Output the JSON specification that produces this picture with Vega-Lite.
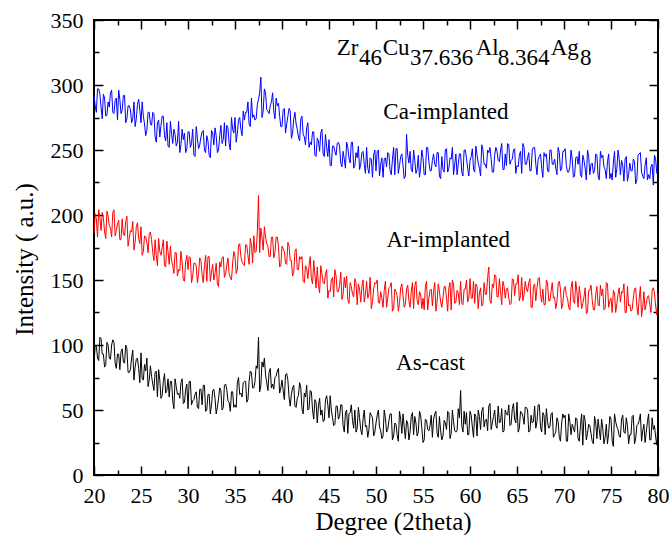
{
"$schema": "https://vega.github.io/schema/vega-lite/v6.json",
"width": 564, "height": 455,
"autosize": "none",
"padding": {"left": 94, "top": 20, "right": 12, "bottom": 60},
"background": "white",
"config": {
 "view": {"stroke": "#000", "strokeWidth": 2},
 "axis": {"domain": false, "grid": false, "tickColor": "#000", "tickWidth": 1.5, "labelFont": "Liberation Serif", "labelFontSize": 22, "labelColor": "#000", "labelFlush": false, "labelOverlap": false, "titleFont": "Liberation Serif", "titleFontSize": 24, "titleFontWeight": "normal", "titleColor": "#000"}
},
"datasets": {
 "xrd": [
{"x":20,"c":292,"r":186,"b":85},{"x":20.25,"c":279,"r":197,"b":99},{"x":20.5,"c":297,"r":204,"b":88},{"x":20.75,"c":283,"r":188,"b":105},
{"x":21,"c":293,"r":198,"b":93},{"x":21.25,"c":276,"r":182,"b":85},{"x":21.5,"c":287,"r":199,"b":100},{"x":21.75,"c":294,"r":190,"b":89},
{"x":22,"c":279,"r":202,"b":104},{"x":22.25,"c":288,"r":184,"b":86},{"x":22.5,"c":273,"r":193,"b":93},{"x":22.75,"c":289,"r":181,"b":81},
{"x":23,"c":281,"r":197,"b":97},{"x":23.25,"c":292,"r":184,"b":86},{"x":23.5,"c":274,"r":199,"b":97},{"x":23.75,"c":284,"r":182,"b":79},
{"x":24,"c":271,"r":187,"b":90},{"x":24.25,"c":287,"r":173,"b":73},{"x":24.5,"c":274,"r":191,"b":89},{"x":24.75,"c":289,"r":182,"b":82},
{"x":25,"c":271,"r":191,"b":94},{"x":25.25,"c":276,"r":172,"b":73},{"x":25.5,"c":261,"r":183,"b":80},{"x":25.75,"c":279,"r":171,"b":68},
{"x":26,"c":270,"r":187,"b":84},{"x":26.25,"c":279,"r":171,"b":70},{"x":26.5,"c":260,"r":181,"b":79},{"x":26.75,"c":271,"r":161,"b":60},
{"x":27,"c":260,"r":172,"b":73},{"x":27.25,"c":276,"r":175,"b":61},{"x":27.5,"c":261,"r":161,"b":78},{"x":27.75,"c":271,"r":180,"b":65},
{"x":28,"c":252,"r":162,"b":60},{"x":28.25,"c":263,"r":165,"b":72},{"x":28.5,"c":266,"r":155,"b":51},{"x":28.75,"c":253,"r":171,"b":68},
{"x":29,"c":272,"r":158,"b":63},{"x":29.25,"c":254,"r":172,"b":71},{"x":29.5,"c":258,"r":150,"b":55},{"x":29.75,"c":248,"r":164,"b":66},
{"x":30,"c":264,"r":158,"b":51},{"x":30.25,"c":252,"r":167,"b":72},{"x":30.5,"c":266,"r":153,"b":57},{"x":30.75,"c":245,"r":163,"b":62},
{"x":31,"c":259,"r":148,"b":52},{"x":31.25,"c":254,"r":167,"b":66},{"x":31.5,"c":264,"r":154,"b":54},{"x":31.75,"c":250,"r":161,"b":69},
{"x":32,"c":261,"r":149,"b":50},{"x":32.25,"c":246,"r":168,"b":62},{"x":32.5,"c":265,"r":156,"b":54},{"x":32.75,"c":254,"r":150,"b":66},
{"x":33,"c":261,"r":163,"b":47},{"x":33.25,"c":250,"r":145,"b":59},{"x":33.5,"c":269,"r":160,"b":65},{"x":33.75,"c":258,"r":168,"b":52},
{"x":34,"c":253,"r":155,"b":70},{"x":34.25,"c":267,"r":167,"b":57},{"x":34.5,"c":250,"r":152,"b":49},{"x":34.75,"c":266,"r":163,"b":64},
{"x":35,"c":275,"r":168,"b":54},{"x":35.25,"c":263,"r":158,"b":71},{"x":35.5,"c":275,"r":178,"b":62},{"x":35.75,"c":261,"r":164,"b":60},
{"x":36,"c":273,"r":161,"b":72},{"x":36.25,"c":279,"r":177,"b":56},{"x":36.5,"c":270,"r":162,"b":72},{"x":36.75,"c":290,"r":177,"b":79},
{"x":37,"c":277,"r":184,"b":67},{"x":37.25,"c":274,"r":172,"b":84},{"x":37.5,"c":289,"r":215,"b":106},{"x":37.75,"c":306,"r":190,"b":69},
{"x":38,"c":280,"r":173,"b":83},{"x":38.25,"c":294,"r":183,"b":77},{"x":38.5,"c":280,"r":176,"b":65},{"x":38.75,"c":284,"r":168,"b":82},
{"x":39,"c":294,"r":183,"b":70},{"x":39.25,"c":274,"r":171,"b":75},{"x":39.5,"c":284,"r":183,"b":80},{"x":39.75,"c":276,"r":160,"b":63},
{"x":40,"c":268,"r":176,"b":73},{"x":40.25,"c":282,"r":172,"b":58},{"x":40.5,"c":270,"r":162,"b":78},{"x":40.75,"c":282,"r":176,"b":60},
{"x":41,"c":259,"r":165,"b":62},{"x":41.25,"c":274,"r":156,"b":69},{"x":41.5,"c":270,"r":174,"b":52},{"x":41.75,"c":260,"r":158,"b":61},
{"x":42,"c":274,"r":166,"b":67},{"x":42.25,"c":262,"r":149,"b":47},{"x":42.5,"c":254,"r":161,"b":60},{"x":42.75,"c":271,"r":151,"b":50},
{"x":43,"c":256,"r":168,"b":65},{"x":43.25,"c":264,"r":147,"b":50},{"x":43.5,"c":246,"r":154,"b":58},{"x":43.75,"c":259,"r":160,"b":40},
{"x":44,"c":249,"r":140,"b":59},{"x":44.25,"c":266,"r":155,"b":50},{"x":44.5,"c":245,"r":147,"b":42},{"x":44.75,"c":252,"r":158,"b":61},
{"x":45,"c":258,"r":142,"b":44},{"x":45.25,"c":238,"r":150,"b":50},{"x":45.5,"c":253,"r":137,"b":38},{"x":45.75,"c":246,"r":153,"b":53},
{"x":46,"c":256,"r":141,"b":43},{"x":46.25,"c":240,"r":156,"b":54},{"x":46.5,"c":249,"r":139,"b":38},{"x":46.75,"c":236,"r":144,"b":48},
{"x":47,"c":252,"r":135,"b":32},{"x":47.25,"c":240,"r":148,"b":48},{"x":47.5,"c":256,"r":139,"b":42},{"x":47.75,"c":238,"r":151,"b":50},
{"x":48,"c":244,"r":131,"b":36},{"x":48.25,"c":235,"r":143,"b":44},{"x":48.5,"c":248,"r":145,"b":31},{"x":48.75,"c":239,"r":133,"b":50},
{"x":49,"c":252,"r":149,"b":38},{"x":49.25,"c":232,"r":139,"b":35},{"x":49.5,"c":243,"r":128,"b":46},{"x":49.75,"c":246,"r":143,"b":30},
{"x":50,"c":234,"r":147,"b":40},{"x":50.25,"c":250,"r":133,"b":50},{"x":50.5,"c":239,"r":141,"b":34},{"x":50.75,"c":229,"r":129,"b":30},
{"x":51,"c":244,"r":149,"b":44},{"x":51.25,"c":248,"r":136,"b":35},{"x":51.5,"c":234,"r":145,"b":47},{"x":51.75,"c":243,"r":126,"b":27},
{"x":52,"c":231,"r":143,"b":40},{"x":52.25,"c":251,"r":138,"b":31},{"x":52.5,"c":238,"r":132,"b":49},{"x":52.75,"c":247,"r":147,"b":32},
{"x":53,"c":228,"r":129,"b":37},{"x":53.25,"c":262,"r":143,"b":42},{"x":53.5,"c":240,"r":134,"b":27},{"x":53.75,"c":235,"r":141,"b":45},
{"x":54,"c":250,"r":128,"b":31},{"x":54.25,"c":232,"r":149,"b":40},{"x":54.5,"c":246,"r":131,"b":33},{"x":54.75,"c":237,"r":139,"b":46},
{"x":55,"c":244,"r":136,"b":25},{"x":55.25,"c":231,"r":145,"b":43},{"x":55.5,"c":252,"r":127,"b":35},{"x":55.75,"c":234,"r":142,"b":38},
{"x":56,"c":242,"r":130,"b":29},{"x":56.25,"c":239,"r":148,"b":47},{"x":56.5,"c":248,"r":133,"b":32},{"x":56.75,"c":230,"r":141,"b":45},
{"x":57,"c":245,"r":129,"b":27},{"x":57.25,"c":233,"r":145,"b":42},{"x":57.5,"c":251,"r":136,"b":35},{"x":57.75,"c":236,"r":144,"b":48},
{"x":58,"c":243,"r":127,"b":32},{"x":58.25,"c":231,"r":147,"b":41},{"x":58.5,"c":247,"r":133,"b":33},{"x":58.75,"c":239,"r":140,"b":51},
{"x":59,"c":247,"r":149,"b":65},{"x":59.25,"c":230,"r":131,"b":33},{"x":59.5,"c":250,"r":143,"b":39},{"x":59.75,"c":236,"r":133,"b":31},
{"x":60,"c":242,"r":151,"b":49},{"x":60.25,"c":251,"r":136,"b":37},{"x":60.5,"c":233,"r":132,"b":47},{"x":60.75,"c":246,"r":145,"b":30},
{"x":61,"c":236,"r":140,"b":45},{"x":61.25,"c":254,"r":130,"b":49},{"x":61.5,"c":239,"r":148,"b":37},{"x":61.75,"c":236,"r":139,"b":43},
{"x":62,"c":248,"r":160,"b":53},{"x":62.25,"c":243,"r":132,"b":35},{"x":62.5,"c":233,"r":144,"b":45},{"x":62.75,"c":252,"r":153,"b":38},
{"x":63,"c":242,"r":137,"b":53},{"x":63.25,"c":250,"r":141,"b":41},{"x":63.5,"c":235,"r":149,"b":33},{"x":63.75,"c":247,"r":136,"b":50},
{"x":64,"c":255,"r":144,"b":46},{"x":64.25,"c":239,"r":131,"b":38},{"x":64.5,"c":243,"r":151,"b":51},{"x":64.75,"c":251,"r":138,"b":43},
{"x":65,"c":238,"r":147,"b":56},{"x":65.25,"c":246,"r":134,"b":36},{"x":65.5,"c":232,"r":152,"b":48},{"x":65.75,"c":252,"r":139,"b":39},
{"x":66,"c":239,"r":143,"b":52},{"x":66.25,"c":248,"r":148,"b":33},{"x":66.5,"c":234,"r":129,"b":46},{"x":66.75,"c":252,"r":145,"b":41},
{"x":67,"c":239,"r":134,"b":36},{"x":67.25,"c":243,"r":151,"b":54},{"x":67.5,"c":247,"r":139,"b":37},{"x":67.75,"c":229,"r":143,"b":48},
{"x":68,"c":245,"r":131,"b":31},{"x":68.25,"c":234,"r":148,"b":41},{"x":68.5,"c":250,"r":134,"b":37},{"x":68.75,"c":239,"r":148,"b":48},
{"x":69,"c":243,"r":137,"b":31},{"x":69.25,"c":231,"r":133,"b":44},{"x":69.5,"c":248,"r":149,"b":29},{"x":69.75,"c":235,"r":128,"b":40},
{"x":70,"c":249,"r":143,"b":44},{"x":70.25,"c":238,"r":138,"b":26},{"x":70.5,"c":233,"r":129,"b":47},{"x":70.75,"c":250,"r":144,"b":31},
{"x":71,"c":229,"r":134,"b":36},{"x":71.25,"c":244,"r":149,"b":44},{"x":71.5,"c":239,"r":129,"b":28},{"x":71.75,"c":231,"r":138,"b":38},
{"x":72,"c":246,"r":132,"b":23},{"x":72.25,"c":236,"r":144,"b":42},{"x":72.5,"c":250,"r":125,"b":32},{"x":72.75,"c":231,"r":142,"b":38},
{"x":73,"c":240,"r":135,"b":26},{"x":73.25,"c":234,"r":127,"b":45},{"x":73.5,"c":246,"r":145,"b":28},{"x":73.75,"c":227,"r":130,"b":35},
{"x":74,"c":244,"r":138,"b":43},{"x":74.25,"c":237,"r":127,"b":24},{"x":74.5,"c":228,"r":148,"b":39},{"x":74.75,"c":247,"r":129,"b":32},
{"x":75,"c":232,"r":136,"b":43},{"x":75.25,"c":240,"r":142,"b":22},{"x":75.5,"c":229,"r":125,"b":41},{"x":75.75,"c":250,"r":139,"b":35},
{"x":76,"c":231,"r":133,"b":29},{"x":76.25,"c":238,"r":140,"b":46},{"x":76.5,"c":243,"r":125,"b":32},{"x":76.75,"c":226,"r":145,"b":38},
{"x":77,"c":240,"r":131,"b":31},{"x":77.25,"c":234,"r":127,"b":45},{"x":77.5,"c":241,"r":143,"b":24},{"x":77.75,"c":227,"r":130,"b":38},
{"x":78,"c":247,"r":136,"b":42},{"x":78.25,"c":233,"r":122,"b":26},{"x":78.5,"c":228,"r":141,"b":39},{"x":78.75,"c":244,"r":132,"b":33},
{"x":79,"c":231,"r":138,"b":47},{"x":79.25,"c":237,"r":125,"b":27},{"x":79.5,"c":223,"r":144,"b":35},{"x":79.75,"c":243,"r":130,"b":29},
{"x":80,"c":234,"r":140,"b":42},
{"x":20.125,"c":284,"r":201,"b":100},{"x":20.375,"c":297,"r":183,"b":90},{"x":20.625,"c":293,"r":198,"b":106},{"x":20.875,"c":274,"r":202,"b":93},
{"x":21.125,"c":290,"r":187,"b":83},{"x":21.375,"c":277,"r":203,"b":102},{"x":21.625,"c":283,"r":192,"b":90},{"x":21.875,"c":296,"r":183,"b":100},
{"x":22.125,"c":278,"r":204,"b":102},{"x":22.375,"c":290,"r":188,"b":82},{"x":22.625,"c":296,"r":196,"b":93},{"x":22.875,"c":278,"r":181,"b":95},
{"x":23.125,"c":292,"r":185,"b":87},{"x":23.375,"c":271,"r":195,"b":100},{"x":23.625,"c":284,"r":176,"b":79},{"x":23.875,"c":281,"r":188,"b":81},
{"x":24.125,"c":274,"r":195,"b":96},{"x":24.375,"c":268,"r":179,"b":83},{"x":24.625,"c":285,"r":194,"b":90},{"x":24.875,"c":281,"r":178,"b":71},
{"x":25.125,"c":287,"r":169,"b":74},{"x":25.375,"c":270,"r":184,"b":85},{"x":25.625,"c":265,"r":179,"b":90},{"x":25.875,"c":279,"r":185,"b":73},
{"x":26.125,"c":269,"r":181,"b":76},{"x":26.375,"c":278,"r":165,"b":65},{"x":26.625,"c":256,"r":169,"b":80},{"x":26.875,"c":273,"r":182,"b":81},
{"x":27.125,"c":269,"r":169,"b":59},{"x":27.375,"c":276,"r":181,"b":72},{"x":27.625,"c":257,"r":160,"b":63},{"x":27.875,"c":253,"r":172,"b":74},
{"x":28.125,"c":272,"r":176,"b":72},{"x":28.375,"c":255,"r":161,"b":57},{"x":28.625,"c":262,"r":171,"b":74},{"x":28.875,"c":256,"r":153,"b":62},
{"x":29.125,"c":248,"r":157,"b":59},{"x":29.375,"c":266,"r":164,"b":74},{"x":29.625,"c":263,"r":149,"b":56},{"x":29.875,"c":251,"r":169,"b":70},
{"x":30.125,"c":264,"r":168,"b":72},{"x":30.375,"c":255,"r":148,"b":54},{"x":30.625,"c":246,"r":163,"b":58},{"x":30.875,"c":268,"r":161,"b":64},
{"x":31.125,"c":251,"r":155,"b":51},{"x":31.375,"c":260,"r":165,"b":66},{"x":31.625,"c":265,"r":148,"b":69},{"x":31.875,"c":248,"r":169,"b":49},
{"x":32.125,"c":257,"r":168,"b":62},{"x":32.375,"c":244,"r":149,"b":47},{"x":32.625,"c":263,"r":162,"b":65},{"x":32.875,"c":267,"r":155,"b":59},
{"x":33.125,"c":248,"r":147,"b":52},{"x":33.375,"c":261,"r":164,"b":67},{"x":33.625,"c":255,"r":167,"b":50},{"x":33.875,"c":271,"r":152,"b":69},
{"x":34.125,"c":269,"r":161,"b":66},{"x":34.375,"c":255,"r":155,"b":56},{"x":34.625,"c":275,"r":150,"b":64},{"x":34.875,"c":263,"r":172,"b":52},
{"x":35.125,"c":256,"r":155,"b":52},{"x":35.375,"c":273,"r":177,"b":75},{"x":35.625,"c":266,"r":168,"b":63},{"x":35.875,"c":280,"r":162,"b":71},
{"x":36.125,"c":279,"r":177,"b":72},{"x":36.375,"c":287,"r":169,"b":58},{"x":36.625,"c":268,"r":182,"b":80},{"x":36.875,"c":275,"r":163,"b":67},
{"x":37.125,"c":273,"r":171,"b":72},{"x":37.375,"c":285,"r":187,"b":82},{"x":37.625,"c":294,"r":171,"b":64},{"x":37.875,"c":275,"r":183,"b":87},
{"x":38.125,"c":297,"r":191,"b":90},{"x":38.375,"c":281,"r":178,"b":71},{"x":38.625,"c":278,"r":168,"b":79},{"x":38.875,"c":287,"r":183,"b":67},
{"x":39.125,"c":280,"r":167,"b":66},{"x":39.375,"c":290,"r":183,"b":76},{"x":39.625,"c":286,"r":176,"b":82},{"x":39.875,"c":268,"r":161,"b":67},
{"x":40.125,"c":281,"r":174,"b":65},{"x":40.375,"c":263,"r":163,"b":77},{"x":40.625,"c":276,"r":179,"b":73},{"x":40.875,"c":280,"r":165,"b":53},
{"x":41.125,"c":263,"r":153,"b":67},{"x":41.375,"c":279,"r":172,"b":53},{"x":41.625,"c":266,"r":158,"b":59},{"x":41.875,"c":257,"r":168,"b":71},
{"x":42.125,"c":276,"r":168,"b":51},{"x":42.375,"c":260,"r":148,"b":63},{"x":42.625,"c":267,"r":159,"b":69},{"x":42.875,"c":252,"r":161,"b":51},
{"x":43.125,"c":254,"r":151,"b":64},{"x":43.375,"c":264,"r":165,"b":43},{"x":43.625,"c":245,"r":144,"b":56},{"x":43.875,"c":257,"r":146,"b":53},
{"x":44.125,"c":263,"r":161,"b":46},{"x":44.375,"c":247,"r":148,"b":41},{"x":44.625,"c":262,"r":155,"b":58},{"x":44.875,"c":245,"r":136,"b":54},
{"x":45.125,"c":238,"r":141,"b":61},{"x":45.375,"c":253,"r":152,"b":44},{"x":45.625,"c":249,"r":158,"b":39},{"x":45.875,"c":255,"r":141,"b":53},
{"x":46.125,"c":253,"r":146,"b":45},{"x":46.375,"c":237,"r":135,"b":54},{"x":46.625,"c":243,"r":152,"b":33},{"x":46.875,"c":256,"r":153,"b":50},
{"x":47.125,"c":244,"r":132,"b":47},{"x":47.375,"c":256,"r":145,"b":54},{"x":47.625,"c":236,"r":137,"b":36},{"x":47.875,"c":248,"r":148,"b":33},
{"x":48.125,"c":253,"r":147,"b":52},{"x":48.375,"c":239,"r":133,"b":35},{"x":48.625,"c":249,"r":150,"b":43},{"x":48.875,"c":232,"r":139,"b":37},
{"x":49.125,"c":236,"r":136,"b":29},{"x":49.375,"c":244,"r":152,"b":48},{"x":49.625,"c":229,"r":133,"b":44},{"x":49.875,"c":250,"r":148,"b":33},
{"x":50.125,"c":249,"r":150,"b":46},{"x":50.375,"c":230,"r":132,"b":37},{"x":50.625,"c":244,"r":136,"b":28},{"x":50.875,"c":243,"r":142,"b":50},
{"x":51.125,"c":237,"r":129,"b":33},{"x":51.375,"c":247,"r":144,"b":42},{"x":51.625,"c":231,"r":148,"b":47},{"x":51.875,"c":252,"r":128,"b":30},
{"x":52.125,"c":251,"r":141,"b":39},{"x":52.375,"c":232,"r":126,"b":26},{"x":52.625,"c":245,"r":144,"b":43},{"x":52.875,"c":238,"r":138,"b":47},
{"x":53.125,"c":230,"r":131,"b":28},{"x":53.375,"c":246,"r":146,"b":40},{"x":53.625,"c":249,"r":129,"b":33},{"x":53.875,"c":233,"r":148,"b":48},
{"x":54.125,"c":242,"r":145,"b":45},{"x":54.375,"c":235,"r":134,"b":30},{"x":54.625,"c":229,"r":141,"b":49},{"x":54.875,"c":250,"r":128,"b":36},
{"x":55.125,"c":231,"r":127,"b":27},{"x":55.375,"c":252,"r":149,"b":42},{"x":55.625,"c":241,"r":136,"b":34},{"x":55.875,"c":234,"r":143,"b":46},
{"x":56.125,"c":247,"r":142,"b":43},{"x":56.375,"c":237,"r":126,"b":49},{"x":56.625,"c":248,"r":147,"b":29},{"x":56.875,"c":228,"r":133,"b":34},
{"x":57.125,"c":235,"r":136,"b":30},{"x":57.375,"c":250,"r":145,"b":40},{"x":57.625,"c":233,"r":126,"b":49},{"x":57.875,"c":244,"r":148,"b":28},
{"x":58.125,"c":252,"r":150,"b":50},{"x":58.375,"c":239,"r":132,"b":34},{"x":58.625,"c":231,"r":142,"b":34},{"x":58.875,"c":247,"r":131,"b":44},
{"x":59.125,"c":233,"r":132,"b":38},{"x":59.375,"c":250,"r":143,"b":49},{"x":59.625,"c":244,"r":150,"b":48},{"x":59.875,"c":230,"r":136,"b":31},
{"x":60.125,"c":245,"r":136,"b":46},{"x":60.375,"c":235,"r":149,"b":29},{"x":60.625,"c":253,"r":147,"b":45},{"x":60.875,"c":240,"r":128,"b":50},
{"x":61.125,"c":230,"r":144,"b":35},{"x":61.375,"c":250,"r":131,"b":52},{"x":61.625,"c":239,"r":139,"b":42},{"x":61.875,"c":250,"r":152,"b":34},
{"x":62.125,"c":252,"r":134,"b":55},{"x":62.375,"c":233,"r":147,"b":40},{"x":62.625,"c":246,"r":154,"b":50},{"x":62.875,"c":249,"r":137,"b":36},
{"x":63.125,"c":241,"r":151,"b":40},{"x":63.375,"c":255,"r":131,"b":51},{"x":63.625,"c":235,"r":145,"b":34},{"x":63.875,"c":238,"r":143,"b":47},
{"x":64.125,"c":254,"r":136,"b":54},{"x":64.375,"c":242,"r":132,"b":39},{"x":64.625,"c":250,"r":150,"b":55},{"x":64.875,"c":232,"r":147,"b":40},
{"x":65.125,"c":237,"r":154,"b":33},{"x":65.375,"c":249,"r":138,"b":49},{"x":65.625,"c":255,"r":134,"b":45},{"x":65.875,"c":239,"r":149,"b":52},
{"x":66.125,"c":244,"r":141,"b":50},{"x":66.375,"c":234,"r":151,"b":34},{"x":66.625,"c":250,"r":129,"b":40},{"x":66.875,"c":252,"r":147,"b":53},
{"x":67.125,"c":231,"r":144,"b":41},{"x":67.375,"c":245,"r":152,"b":54},{"x":67.625,"c":236,"r":133,"b":33},{"x":67.875,"c":248,"r":131,"b":46},
{"x":68.125,"c":247,"r":150,"b":51},{"x":68.375,"c":233,"r":134,"b":36},{"x":68.625,"c":250,"r":141,"b":47},{"x":68.875,"c":239,"r":136,"b":29},
{"x":69.125,"c":236,"r":128,"b":33},{"x":69.375,"c":252,"r":147,"b":41},{"x":69.625,"c":234,"r":143,"b":26},{"x":69.875,"c":249,"r":132,"b":47},
{"x":70.125,"c":251,"r":145,"b":46},{"x":70.375,"c":233,"r":136,"b":26},{"x":70.625,"c":237,"r":127,"b":41},{"x":70.875,"c":243,"r":149,"b":39},
{"x":71.125,"c":230,"r":132,"b":33},{"x":71.375,"c":245,"r":141,"b":43},{"x":71.625,"c":249,"r":145,"b":26},{"x":71.875,"c":229,"r":128,"b":47},
{"x":72.125,"c":242,"r":137,"b":46},{"x":72.375,"c":227,"r":124,"b":27},{"x":72.625,"c":245,"r":142,"b":39},{"x":72.875,"c":239,"r":146,"b":32},
{"x":73.125,"c":232,"r":127,"b":24},{"x":73.375,"c":247,"r":139,"b":40},{"x":73.625,"c":230,"r":131,"b":43},{"x":73.875,"c":249,"r":146,"b":27},
{"x":74.125,"c":246,"r":143,"b":36},{"x":74.375,"c":235,"r":128,"b":29},{"x":74.625,"c":241,"r":147,"b":24},{"x":74.875,"c":228,"r":134,"b":45},
{"x":75.125,"c":227,"r":125,"b":26},{"x":75.375,"c":249,"r":140,"b":47},{"x":75.625,"c":236,"r":132,"b":37},{"x":75.875,"c":243,"r":144,"b":30},
{"x":76.125,"c":242,"r":141,"b":43},{"x":76.375,"c":226,"r":147,"b":33},{"x":76.625,"c":245,"r":125,"b":44},{"x":76.875,"c":231,"r":130,"b":24},
{"x":77.125,"c":234,"r":126,"b":31},{"x":77.375,"c":243,"r":136,"b":46},{"x":77.625,"c":224,"r":144,"b":28},{"x":77.875,"c":246,"r":123,"b":39},
{"x":78.125,"c":248,"r":145,"b":47},{"x":78.375,"c":230,"r":129,"b":34},{"x":78.625,"c":238,"r":127,"b":25},{"x":78.875,"c":227,"r":137,"b":41},
{"x":79.125,"c":228,"r":131,"b":27},{"x":79.375,"c":239,"r":142,"b":44},{"x":79.625,"c":246,"r":140,"b":38},{"x":79.875,"c":232,"r":123,"b":23}
 ],
 "ann": [
  {"t":"Zr","x":45.82,"y":323.1},
  {"t":"46","x":48.19,"y":315.4},
  {"t":"Cu","x":50.71,"y":323.1},
  {"t":"37.636","x":53.62,"y":315.4},
  {"t":"Al","x":60.61,"y":323.1},
  {"t":"8.364","x":62.95,"y":315.4},
  {"t":"Ag","x":68.59,"y":323.1},
  {"t":"8","x":71.7,"y":315.4},
  {"t":"Ca-implanted","x":50.78,"y":273.7},
  {"t":"Ar-implanted","x":51.13,"y":175.1},
  {"t":"As-cast","x":52.13,"y":80.8}
 ]
},
"layer": [
 {
  "data": {"name": "xrd"},
  "transform": [{"fold": ["c", "r", "b"], "as": ["s", "v"]}],
  "mark": {"type": "line", "strokeWidth": 1},
  "encoding": {
   "x": {"field": "x", "type": "quantitative", "scale": {"domain": [20, 80], "nice": false, "zero": false},
    "axis": {"orient": "bottom", "values": [20,25,30,35,40,45,50,55,60,65,70,75,80], "tickSize": -9, "labelPadding": 19, "title": "Degree (2theta)", "titleFontSize": 25, "titleX": 299, "titleY": 54, "titleAlign": "center", "titleBaseline": "alphabetic"}},
   "y": {"field": "v", "type": "quantitative", "scale": {"domain": [0, 350], "nice": false},
    "axis": {"orient": "left", "values": [0,50,100,150,200,250,300,350], "tickSize": -9, "labelPadding": 20, "title": "Intensity ( a.u.)", "titleFontSize": 25, "titleX": -62, "titleY": 239, "titleAlign": "center", "titleBaseline": "alphabetic"}},
   "color": {"field": "s", "type": "nominal", "scale": {"domain": ["c", "r", "b"], "range": ["#0000ff", "#ff0000", "#000000"]}, "legend": null}
  }
 },
 {
  "data": {"name": "ann"},
  "mark": {"type": "text", "align": "left", "baseline": "alphabetic", "font": "Liberation Serif", "fontSize": 23, "color": "#000"},
  "encoding": {
   "x": {"field": "x", "type": "quantitative", "scale": {"domain": [20, 80], "nice": false, "zero": false},
    "axis": {"orient": "bottom", "values": [22.5,27.5,32.5,37.5,42.5,47.5,52.5,57.5,62.5,67.5,72.5,77.5], "tickSize": -5, "labels": false, "title": null}},
   "y": {"field": "y", "type": "quantitative", "scale": {"domain": [0, 350], "nice": false},
    "axis": {"orient": "left", "values": [25,75,125,175,225,275,325], "tickSize": -5, "labels": false, "title": null}},
   "text": {"field": "t"}
  }
 },
 {
  "data": {"name": "ann"},
  "mark": {"type": "point", "opacity": 0},
  "encoding": {
   "x": {"field": "x", "type": "quantitative", "scale": {"domain": [20, 80], "nice": false, "zero": false},
    "axis": {"orient": "top", "values": [20,25,30,35,40,45,50,55,60,65,70,75,80], "tickSize": -9, "labels": false, "title": null}},
   "y": {"field": "y", "type": "quantitative", "scale": {"domain": [0, 350], "nice": false},
    "axis": {"orient": "right", "values": [0,50,100,150,200,250,300,350], "tickSize": -9, "labels": false, "title": null}}
  }
 },
 {
  "data": {"name": "ann"},
  "mark": {"type": "point", "opacity": 0},
  "encoding": {
   "x": {"field": "x", "type": "quantitative", "scale": {"domain": [20, 80], "nice": false, "zero": false},
    "axis": {"orient": "top", "values": [22.5,27.5,32.5,37.5,42.5,47.5,52.5,57.5,62.5,67.5,72.5,77.5], "tickSize": -5, "labels": false, "title": null}},
   "y": {"field": "y", "type": "quantitative", "scale": {"domain": [0, 350], "nice": false},
    "axis": {"orient": "right", "values": [25,75,125,175,225,275,325], "tickSize": -5, "labels": false, "title": null}}
  }
 }
],
"resolve": {"axis": {"x": "independent", "y": "independent"}}
}
